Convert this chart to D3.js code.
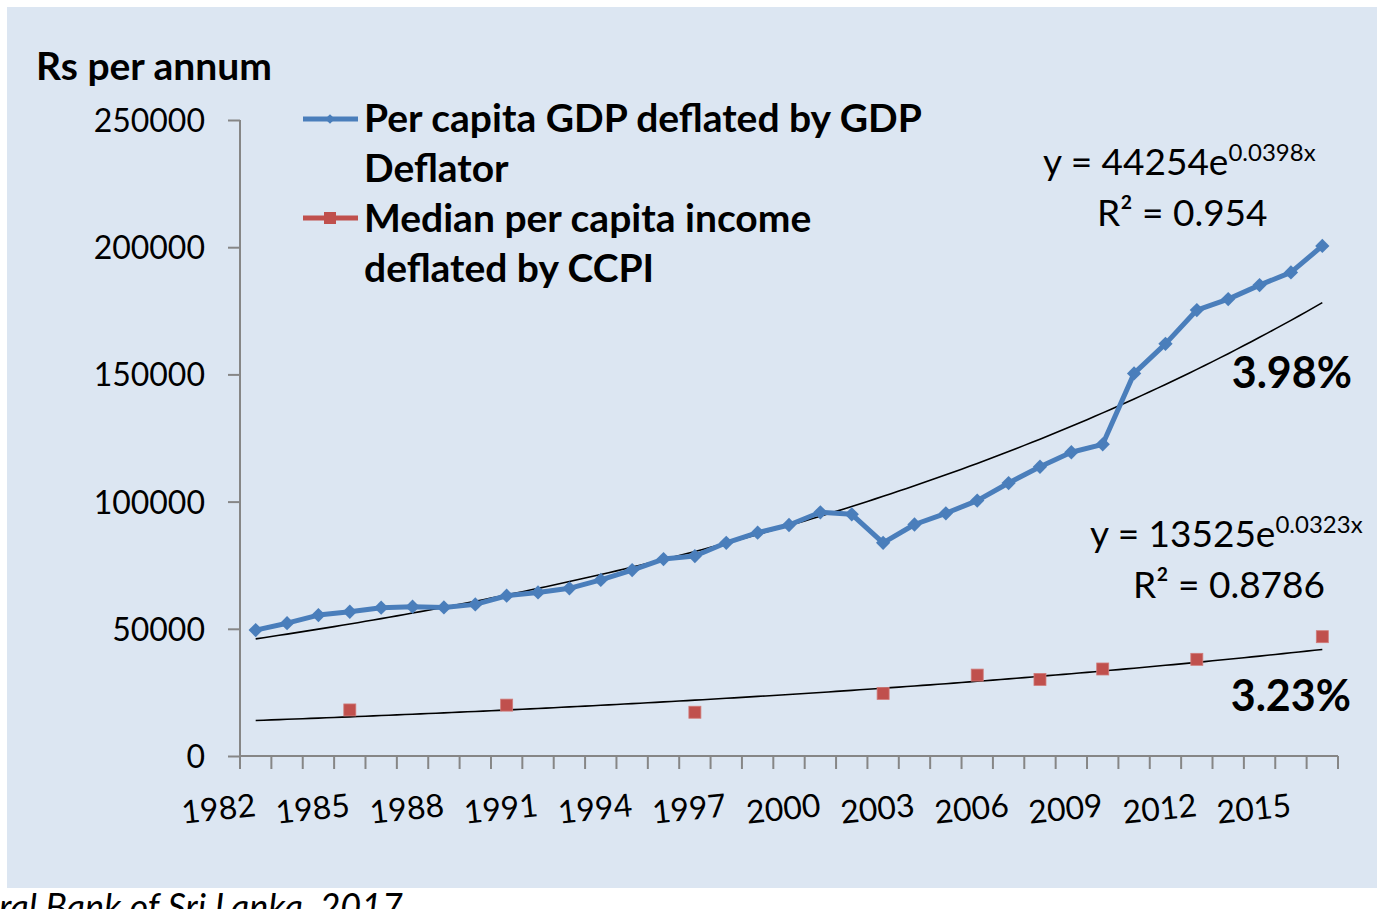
<!DOCTYPE html>
<html>
<head>
<meta charset="utf-8">
<script src="https://cdn.jsdelivr.net/npm/d3@7"></script>
<style>
  html, body { margin: 0; padding: 0; background: #ffffff; }
  svg { display: block; }
  text { font-family: Lato, "Open Sans", sans-serif; fill: #000; }
</style>
</head>
<body>
<svg id="chart" width="1377" height="909"></svg>
<script>
// ---- data ----
const years = d3.range(1982, 2017); // 1982..2016
const gdpValues = [49500, 52200, 55400, 56700, 58300, 58700, 58400, 59600, 63000, 64300,
                   65900, 69200, 73100, 77400, 78600, 83800, 87800, 90800, 95800, 95000,
                   83800, 91000, 95400, 100400, 107300, 113700, 119400, 122500, 150400, 162000,
                   175300, 179600, 185100, 190100, 200500];
const incomeYears = [1985, 1990, 1996, 2002, 2005, 2007, 2009, 2012, 2016];
const incomeValues = [18100, 20000, 17200, 24600, 31800, 30100, 34200, 38000, 46900];
const yTicks = [0, 50000, 100000, 150000, 200000, 250000];
const xLabelYears = [1982, 1985, 1988, 1991, 1994, 1997, 2000, 2003, 2006, 2009, 2012, 2015];
const gdpTrend = { a: 44254, b: 0.0398, r2: "0.954", rate: "3.98%" };
const incomeTrend = { a: 13525, b: 0.0323, r2: "0.8786", rate: "3.23%" };
const legendLabels = [["Per capita GDP deflated by GDP", "Deflator"],
                      ["Median per capita income", "deflated by CCPI"]];

// ---- setup ----
const svg = d3.select("#chart");
const blue = "#4a7ebb", red = "#c0504d", axisCol = "#868686";

svg.append("rect").attr("x", 7).attr("y", 7).attr("width", 1370).attr("height", 881)
   .attr("fill", "#dce6f2");

const x = d3.scaleBand().domain(years).range([240, 1338]).padding(0);
const cx = yr => x(yr) + x.bandwidth() / 2;
const y = d3.scaleLinear().domain([0, 250000]).range([756, 120]);

// y axis
const yAxis = svg.append("g").attr("transform", "translate(240,0)")
  .call(d3.axisLeft(y).tickValues(yTicks).tickSize(12).tickPadding(23).tickFormat(d3.format("d")));
yAxis.select(".domain").attr("stroke", axisCol).attr("stroke-width", 2).attr("d", "M0,120V756");
yAxis.selectAll(".tick line").attr("stroke", axisCol).attr("stroke-width", 2);
yAxis.selectAll(".tick text").attr("font-size", 32).attr("font-family", "Lato").attr("fill", "#000").attr("dy", "0.36em");

// x axis
const xAxisG = svg.append("g");
xAxisG.append("line").attr("x1", x.range()[0]).attr("x2", x.range()[1])
  .attr("y1", y(0)).attr("y2", y(0)).attr("stroke", axisCol).attr("stroke-width", 2);
const boundaries = years.map(yr => x(yr)).concat([x.range()[1]]);
xAxisG.selectAll("line.tk").data(boundaries).join("line").attr("class", "tk")
  .attr("x1", d => d).attr("x2", d => d).attr("y1", y(0)).attr("y2", y(0) + 13)
  .attr("stroke", axisCol).attr("stroke-width", 2);
xAxisG.selectAll("text").data(xLabelYears).join("text")
  .attr("transform", d => `translate(${cx(d) + 1},816) rotate(-6)`)
  .attr("text-anchor", "end").attr("font-size", 32).text(d => d);

// trendlines
const trendPts = (t) => d3.range(1, 35.01, 0.25).map(i => [x.range()[0] + (i - 0.5) * x.bandwidth(), y(t.a * Math.exp(t.b * i))]);
const line = d3.line();
[gdpTrend, incomeTrend].forEach(t => {
  svg.append("path").attr("d", line(trendPts(t))).attr("fill", "none")
     .attr("stroke", "#000").attr("stroke-width", 1.6);
});

// GDP line
const gdpData = years.map((yr, i) => [cx(yr), y(gdpValues[i])]);
svg.append("path").attr("d", d3.line()(gdpData)).attr("fill", "none")
   .attr("stroke", blue).attr("stroke-width", 5).attr("stroke-linejoin", "round");
const diamond = d3.symbol().type(d3.symbolDiamond2).size(130);
svg.append("g").selectAll("path").data(gdpData).join("path")
   .attr("transform", d => `translate(${d[0]},${d[1]})`).attr("d", diamond).attr("fill", blue);

// income markers
svg.append("g").selectAll("rect").data(incomeYears.map((yr, i) => [cx(yr), y(incomeValues[i])])).join("rect")
   .attr("x", d => d[0] - 6).attr("y", d => d[1] - 6).attr("width", 12).attr("height", 12)
   .attr("fill", red).attr("stroke", "#d07b79").attr("stroke-width", 0.8);

// legend
const lg = svg.append("g");
lg.append("line").attr("x1", 303).attr("x2", 358).attr("y1", 119).attr("y2", 119)
  .attr("stroke", blue).attr("stroke-width", 5);
lg.append("path").attr("transform", "translate(330,119)").attr("d", d3.symbol().type(d3.symbolDiamond2).size(60)).attr("fill", blue);
lg.append("line").attr("x1", 303).attr("x2", 358).attr("y1", 218).attr("y2", 218)
  .attr("stroke", red).attr("stroke-width", 5);
lg.append("rect").attr("x", 324).attr("y", 212).attr("width", 12).attr("height", 12).attr("fill", red);
const legBase = [[132, 182], [232, 282]];
legendLabels.forEach((lines, i) => {
  lines.forEach((t, j) => {
    lg.append("text").attr("x", 364).attr("y", legBase[i][j]).attr("font-size", 39)
      .attr("font-weight", 700).text(t);
  });
});

// title
svg.append("text").attr("x", 36).attr("y", 80).attr("font-size", 39).attr("font-weight", 700).text("Rs per annum");

// equations
function eq(t, x0, yb, x1, yb2) {
  const tx = svg.append("text").attr("x", x0).attr("y", yb).attr("font-size", 37);
  tx.append("tspan").text(`y = ${t.a}e`);
  tx.append("tspan").attr("font-size", 24).attr("dy", -14).text(`${t.b}x`);
  const r = svg.append("text").attr("x", x1).attr("y", yb2).attr("font-size", 37);
  r.append("tspan").text("R²");
  r.append("tspan").text(` = ${t.r2}`);
}
eq(gdpTrend, 1043, 175, 1097, 226);
eq(incomeTrend, 1090, 547, 1133, 598);

svg.append("text").attr("x", 1352).attr("y", 388).attr("text-anchor", "end")
   .attr("font-size", 43).attr("font-weight", 700).text(gdpTrend.rate);
svg.append("text").attr("x", 1351).attr("y", 711).attr("text-anchor", "end")
   .attr("font-size", 43).attr("font-weight", 700).text(incomeTrend.rate);

// source (partly outside the picture, as in the original)
svg.append("text").attr("x", 403).attr("y", 920).attr("text-anchor", "end")
   .attr("font-size", 36).attr("font-style", "italic").text("Source: Central Bank of Sri Lanka, 2017");
</script>
</body>
</html>
